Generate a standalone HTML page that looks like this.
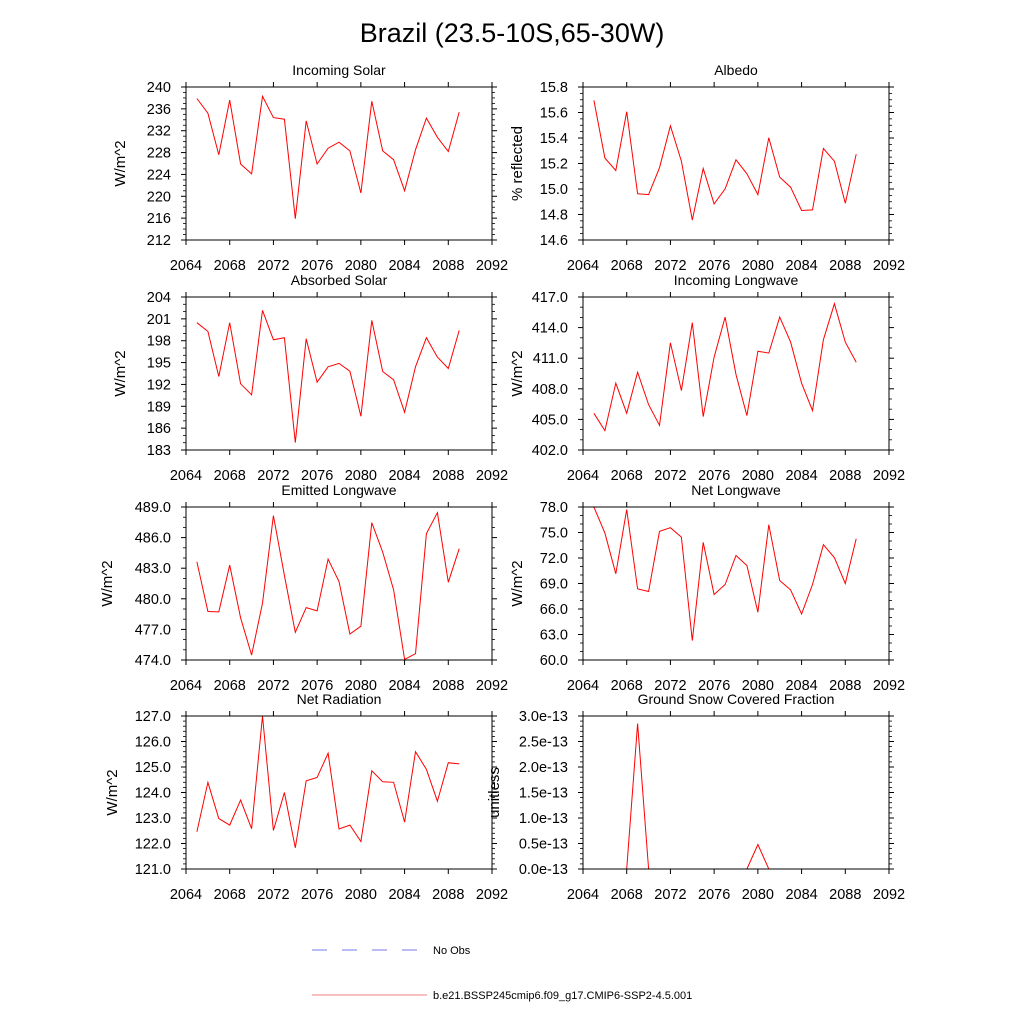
<!DOCTYPE html>
<html><head><meta charset="utf-8"><style>
body{margin:0;background:#fff;}
svg{font-family:"Liberation Sans",sans-serif;}
</style></head><body>
<svg id="chart" width="1024" height="1024" viewBox="0 0 1024 1024" xmlns="http://www.w3.org/2000/svg">
<rect width="1024" height="1024" fill="#fff"/>
<text x="512" y="42" font-size="27" text-anchor="middle">Brazil (23.5-10S,65-30W)</text>
<g>
<line x1="312" y1="950" x2="418" y2="950" stroke="#7777ee" stroke-width="1" stroke-dasharray="15,15"/>
<text x="433" y="954" font-size="11">No Obs</text>
<line x1="312" y1="995" x2="427" y2="995" stroke="#f08080" stroke-width="1"/>
<text x="433" y="999" font-size="11">b.e21.BSSP245cmip6.f09_g17.CMIP6-SSP2-4.5.001</text>
</g>
</svg>
<script>
const years=[2065,2066,2067,2068,2069,2070,2071,2072,2073,2074,2075,2076,2077,2078,2079,2080,2081,2082,2083,2084,2085,2086,2087,2088,2089];
const xTicks=[2064,2068,2072,2076,2080,2084,2088,2092];
const incomingSolar=[237.9,235.2,227.6,237.6,225.9,224.1,238.3,234.4,234.1,215.9,233.8,225.9,228.8,229.9,228.3,220.6,237.4,228.3,226.7,221.0,228.5,234.3,230.8,228.2,235.4];
const albedo=[15.695,15.242,15.145,15.606,14.962,14.956,15.166,15.496,15.218,14.757,15.161,14.883,15.001,15.229,15.119,14.956,15.402,15.093,15.014,14.831,14.836,15.318,15.218,14.888,15.273];
const absorbedSolar=[200.47,199.28,193.09,200.47,192.08,190.57,202.17,198.13,198.41,184.01,198.27,192.31,194.42,194.88,193.82,187.63,200.79,193.78,192.63,188.18,194.42,198.41,195.75,194.19,199.42];
const incomingLW=[405.6,403.9,408.55,405.6,409.63,406.45,404.42,412.51,407.83,414.48,405.27,411.1,415.03,409.4,405.37,411.69,411.5,415.03,412.58,408.55,405.86,412.81,416.34,412.58,410.61];
const emittedLW=[483.63,478.75,478.72,483.3,478.13,474.49,479.57,488.15,482.29,476.72,479.14,478.81,483.89,481.7,476.55,477.31,487.46,484.58,480.88,474.06,474.62,486.38,488.44,481.63,484.91];
const netLW=[78.0,74.93,70.14,77.69,68.37,68.06,75.13,75.56,74.46,62.28,73.83,67.7,68.88,72.3,71.12,65.62,75.92,69.35,68.25,65.42,68.88,73.56,72.03,69.0,74.27];
const netRad=[122.46,124.4,122.98,122.72,123.7,122.58,127.0,122.51,124.0,121.83,124.46,124.59,125.54,122.57,122.72,122.08,124.85,124.42,124.4,122.84,125.6,124.91,123.66,125.17,125.12];
const snowFrac=[0,0,0,0,2.85e-13,0,0,0,0,0,0,0,0,0,0,0.48e-13,0,0,0,0,0,0,0,0,0];
const ticks1=[212,216,220,224,228,232,236,240];
const ticks2=[14.6,14.8,15.0,15.2,15.4,15.6,15.8];
const ticks3=[183,186,189,192,195,198,201,204];
const ticks4=[402,405,408,411,414,417];
const ticks5=[474,477,480,483,486,489];
const ticks6=[60,63,66,69,72,75,78];
const ticks7=[121,122,123,124,125,126,127];
const ticks8=[0,0.5e-13,1e-13,1.5e-13,2e-13,2.5e-13,3e-13];

const NS='http://www.w3.org/2000/svg';
const svg=document.getElementById('chart');
function mk(tag,attrs,parent){const e=document.createElementNS(NS,tag);for(const k in attrs)e.setAttribute(k,attrs[k]);parent.appendChild(e);return e;}

const panels=[
 {name:'incoming-solar',title:'Incoming Solar',yl:'W/m^2',data:incomingSolar,ticks:ticks1,fmt:v=>v.toFixed(0),minor:4,x:186,y:87,ylx:125},
 {name:'albedo',title:'Albedo',yl:'% reflected',data:albedo,ticks:ticks2,fmt:v=>v.toFixed(1),minor:4,x:583,y:87,ylx:522},
 {name:'absorbed-solar',title:'Absorbed Solar',yl:'W/m^2',data:absorbedSolar,ticks:ticks3,fmt:v=>v.toFixed(0),minor:3,x:186,y:297,ylx:125},
 {name:'incoming-longwave',title:'Incoming Longwave',yl:'W/m^2',data:incomingLW,ticks:ticks4,fmt:v=>v.toFixed(1),minor:3,x:583,y:297,ylx:522},
 {name:'emitted-longwave',title:'Emitted Longwave',yl:'W/m^2',data:emittedLW,ticks:ticks5,fmt:v=>v.toFixed(1),minor:3,x:186,y:507,ylx:112},
 {name:'net-longwave',title:'Net Longwave',yl:'W/m^2',data:netLW,ticks:ticks6,fmt:v=>v.toFixed(1),minor:3,x:583,y:507,ylx:522},
 {name:'net-radiation',title:'Net Radiation',yl:'W/m^2',data:netRad,ticks:ticks7,fmt:v=>v.toFixed(1),minor:5,x:186,y:716,ylx:117},
 {name:'ground-snow-fraction',title:'Ground Snow Covered Fraction',yl:'unitless',data:snowFrac,ticks:ticks8,fmt:v=>(v*1e13).toFixed(1)+'e-13',minor:5,x:583,y:716,ylx:499}
];
const W=306,H=153;
panels.forEach(p=>{
 const g=mk('g',{},svg);
 
 
 const x0=xTicks[0],x1=xTicks[xTicks.length-1];
 const y0=p.ticks[0],y1=p.ticks[p.ticks.length-1];
 const sx=v=>p.x+(v-x0)/(x1-x0)*W;
 const sy=v=>p.y+H-(v-y0)/(y1-y0)*H;
 const t=mk('text',{x:p.x+W/2,y:p.y-12,'font-size':14,'text-anchor':'middle'},g);
 t.textContent=p.title;
 
 
 const yl=mk('text',{x:0,y:0,'font-size':15,'text-anchor':'middle',transform:`translate(${p.ylx},${p.y+H/2}) rotate(-90)`},g);
 yl.textContent=p.yl;
 
 
 xTicks.forEach(v=>{
  const X=sx(v);
  mk('line',{x1:X,y1:p.y+H,x2:X,y2:p.y+H+5,stroke:'#000','stroke-width':1},g);
  mk('line',{x1:X,y1:p.y,x2:X,y2:p.y-5,stroke:'#000','stroke-width':1},g);
  const tl=mk('text',{x:X,y:p.y+H+30,'font-size':14.5,'text-anchor':'middle'},g);
  tl.textContent=v;
  
  
 });
 const step=(p.ticks[1]-p.ticks[0]);
 p.ticks.forEach((v,i)=>{
  const Y=sy(v);
  mk('line',{x1:p.x,y1:Y,x2:p.x-5,y2:Y,stroke:'#000','stroke-width':1},g);
  mk('line',{x1:p.x+W,y1:Y,x2:p.x+W+5,y2:Y,stroke:'#000','stroke-width':1},g);
  const tl=mk('text',{x:p.x-15,y:Y+5,'font-size':14.5,'text-anchor':'end'},g);
  tl.textContent=p.fmt(v);
  
  
  if(i<p.ticks.length-1){
   for(let k=1;k<p.minor;k++){
    const Ym=sy(v+step*k/p.minor);
    mk('line',{x1:p.x,y1:Ym,x2:p.x-3,y2:Ym,stroke:'#000','stroke-width':0.8},g);
    mk('line',{x1:p.x+W,y1:Ym,x2:p.x+W+3,y2:Ym,stroke:'#000','stroke-width':0.8},g);
   }
  }
 });
 const pts=p.data.map((v,i)=>sx(years[i]).toFixed(1)+','+sy(v).toFixed(1)).join(' ');
 const pl=mk('polyline',{points:pts,fill:'none',stroke:'#ff0000','stroke-width':1},g);
 
 
 const fr=mk('rect',{x:p.x,y:p.y,width:W,height:H,fill:'none',stroke:'#000','stroke-width':1},g);
 
 
});
</script>
</body></html>
